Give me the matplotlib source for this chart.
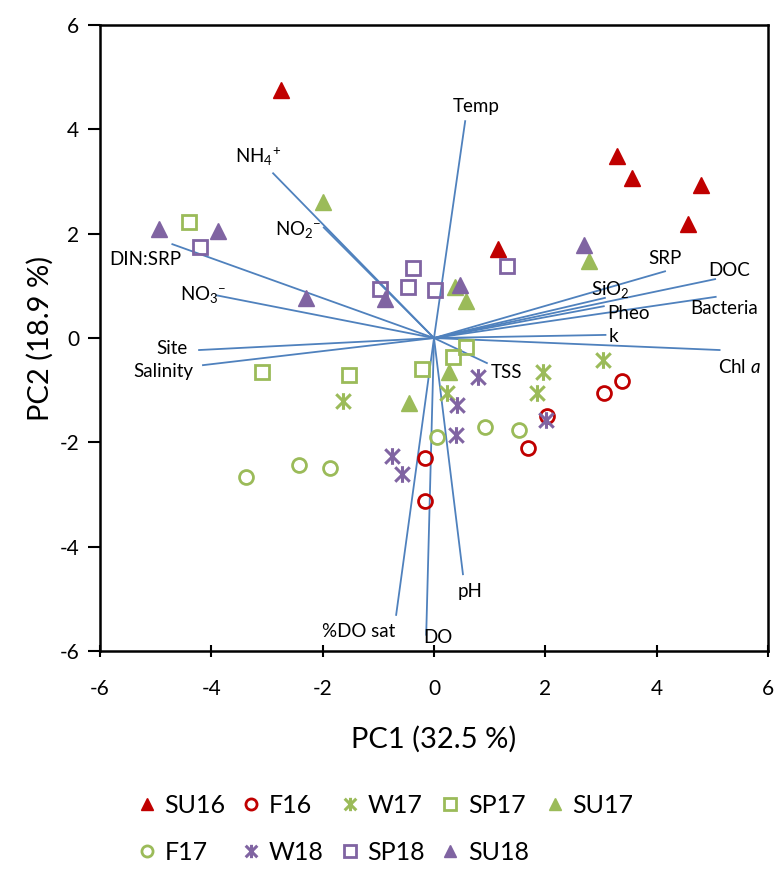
import matplotlib.pyplot as plt
from matplotlib.path import Path

plt.rcParams['font.family'] = ['Lato', 'DejaVu Sans']
plt.rcParams['mathtext.fontset'] = 'custom'
plt.rcParams['mathtext.it'] = 'Lato:italic'
plt.rcParams['mathtext.rm'] = 'Lato'
plt.rcParams['axes.unicode_minus'] = False

# sample scores (PC1, PC2) by season
su16_x = [-2.75, 3.29, 3.55, 4.79, 4.56, 1.15]
su16_y = [4.75, 3.49, 3.07, 2.93, 2.18, 1.70]
f16_x = [-0.17, -0.17, 2.03, 1.69, 3.05, 3.38]
f16_y = [-2.30, -3.12, -1.49, -2.11, -1.05, -0.82]
w17_x = [-1.63, 0.23, 1.96, 1.85, 3.03]
w17_y = [-1.21, -1.05, -0.65, -1.05, -0.42]
sp17_x = [-4.40, -3.09, -1.53, -0.22, 0.57, 0.34]
sp17_y = [2.22, -0.66, -0.71, -0.59, -0.17, -0.36]
su17_x = [-2.00, 0.38, 0.57, 0.27, -0.45, 2.78]
su17_y = [2.61, 0.98, 0.71, -0.65, -1.24, 1.48]
f17_x = [-3.38, -2.42, -1.87, 0.05, 0.92, 1.53]
f17_y = [-2.66, -2.43, -2.49, -1.90, -1.70, -1.76]
w18_x = [-0.75, -0.57, 0.79, 0.41, 0.39, 2.01]
w18_y = [-2.27, -2.60, -0.75, -1.28, -1.86, -1.57]
sp18_x = [-4.20, -0.38, -0.97, -0.47, 0.02, 1.31]
sp18_y = [1.74, 1.34, 0.94, 0.98, 0.92, 1.38]
su18_x = [-4.94, -3.88, -2.30, -0.88, 0.47, 2.69]
su18_y = [2.09, 2.05, 0.77, 0.75, 1.02, 1.78]

# variable loadings (scaled)
var_names = ['Temp', 'NH$_4$$^{+}$', 'NO$_2$$^{-}$', 'DIN:SRP', 'NO$_3$$^{-}$', 'Site',
             'Salinity', '%DO sat', 'DO', 'pH', 'TSS', 'Chl $\\mathit{a}$', 'k',
             'Bacteria', 'DOC', 'SRP', 'SiO$_2$', 'Pheo']
load_x = [0.56, -2.89, -1.98, -4.70, -3.91, -4.22, -4.15, -0.68, -0.14, 0.52, 0.95,
          5.13, 3.08, 5.06, 5.05, 4.15, 3.07, 3.05]
load_y = [4.16, 3.16, 2.12, 1.80, 0.82, -0.23, -0.52, -5.31, -5.69, -4.53, -0.48,
          -0.23, 0.06, 0.79, 1.13, 1.28, 0.77, 0.61]
lab_x = [0.75, -3.16, -2.44, -5.19, -4.15, -4.70, -4.87, -1.35, 0.07, 0.65, 1.31,
         5.49, 3.23, 5.22, 5.31, 4.15, 3.16, 3.50]
lab_y = [4.44, 3.47, 2.09, 1.51, 0.84, -0.21, -0.65, -5.63, -5.75, -4.87, -0.67,
         -0.56, 0.02, 0.57, 1.30, 1.53, 0.94, 0.48]

red = '#C00000'
green = '#9BBB59'
purple = '#8064A2'
blue = '#4F81BD'

# asterisk marker: an X with a vertical bar
star = Path([(-1, -1), (1, 1), (-1, 1), (1, -1), (0, -1.15), (0, 1.15)],
            [Path.MOVETO, Path.LINETO, Path.MOVETO, Path.LINETO, Path.MOVETO, Path.LINETO])

fig = plt.figure(figsize=(7.75, 8.69), dpi=100)
ax = fig.add_axes([0.129, 0.251, 0.862, 0.720])

for i in range(len(var_names)):
    ax.plot([0, load_x[i]], [0, load_y[i]], color=blue, lw=1.3, zorder=2)
    ax.text(lab_x[i], lab_y[i], var_names[i], fontsize=13.5, ha='center', va='center', zorder=4)

h_su16, = ax.plot(su16_x, su16_y, '^', ms=11, color=red, mec=red, ls='none', label='SU16', zorder=3)
h_f16, = ax.plot(f16_x, f16_y, 'o', ms=10, mfc='none', mec=red, mew=2, ls='none', label='F16', zorder=3)
h_w17, = ax.plot(w17_x, w17_y, marker=star, ms=12, mfc='none', mec=green, mew=2.2, ls='none', label='W17', zorder=3)
h_sp17, = ax.plot(sp17_x, sp17_y, 's', ms=10, mfc='none', mec=green, mew=2, ls='none', label='SP17', zorder=3)
h_su17, = ax.plot(su17_x, su17_y, '^', ms=11, color=green, mec=green, ls='none', label='SU17', zorder=3)
h_f17, = ax.plot(f17_x, f17_y, 'o', ms=10, mfc='none', mec=green, mew=2, ls='none', label='F17', zorder=3)
h_w18, = ax.plot(w18_x, w18_y, marker=star, ms=12, mfc='none', mec=purple, mew=2.2, ls='none', label='W18', zorder=3)
h_sp18, = ax.plot(sp18_x, sp18_y, 's', ms=10, mfc='none', mec=purple, mew=2, ls='none', label='SP18', zorder=3)
h_su18, = ax.plot(su18_x, su18_y, '^', ms=11, color=purple, mec=purple, ls='none', label='SU18', zorder=3)

ax.set_xlim(-6, 6)
ax.set_ylim(-6, 6)
ax.set_xticks(range(-6, 7, 2))
ax.set_yticks(range(-6, 7, 2))
ax.tick_params(axis='x', direction='inout', length=9, width=1.5, labelsize=15, pad=16)
ax.tick_params(axis='y', direction='out', length=9, width=1.5, labelsize=15, pad=6)
for s in ax.spines.values():
    s.set_linewidth(1.8)
ax.set_xlabel('PC1 (32.5 %)', fontsize=21, labelpad=19)
ax.set_ylabel('PC2 (18.9 %)', fontsize=21, labelpad=4)

# column-wise legend order so the rows read left to right
handles = [h_su16, h_f17, h_f16, h_w18, h_w17, h_sp18, h_sp17, h_su18, h_su17]
fig.legend(handles=handles, labels=[h.get_label() for h in handles], ncol=5,
           loc='center', bbox_to_anchor=(0.497, 0.046), frameon=False, fontsize=18,
           handlelength=0.8, handletextpad=0.3, columnspacing=0.63, labelspacing=0.95,
           markerscale=0.8, borderpad=0)

fig.savefig('out.png', dpi=100)
